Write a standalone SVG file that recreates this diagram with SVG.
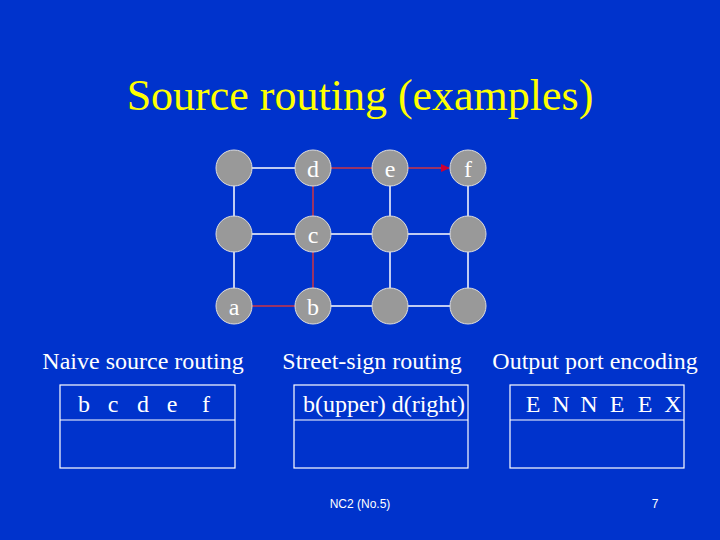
<svg xmlns="http://www.w3.org/2000/svg" width="720" height="540" viewBox="0 0 720 540">
<defs>
<marker id="ah" markerWidth="9" markerHeight="8" refX="8" refY="4" orient="auto" markerUnits="userSpaceOnUse">
<path d="M0,0 L9,4 L0,8 Z" fill="#CC0033"/>
</marker>
<style>
.node{fill:#999999;stroke:#DDDDDD;stroke-width:1}
.nl{font-family:"Liberation Serif",serif;font-size:24px;fill:#FFFFFF;text-anchor:middle}
.w{stroke:#FFFFFF;stroke-width:1.5;fill:none}
.r{stroke:#993366;stroke-width:2;fill:none}
.lab{font-family:"Liberation Serif",serif;font-size:24px;fill:#FFFFFF;text-anchor:middle}
.box{fill:none;stroke:#FFFFFF;stroke-width:1.2}
</style>
</defs>
<rect width="720" height="540" fill="#0033CC"/>
<text x="360" y="110" font-family="Liberation Serif, serif" font-size="44" fill="#FFFF00" text-anchor="middle">Source routing (examples)</text>
<g id="connectors">
<line class="w" x1="234" y1="168" x2="313" y2="168"/>
<line class="r" x1="313" y1="168" x2="390" y2="168" stroke-width="3"/>
<line class="r" x1="390" y1="168" x2="449" y2="168" stroke-width="3" marker-end="url(#ah)"/>
<line class="w" x1="234" y1="234" x2="468" y2="234"/>
<line class="r" x1="234" y1="306" x2="313" y2="306"/>
<line class="w" x1="313" y1="306" x2="468" y2="306"/>
<line class="w" x1="234" y1="168" x2="234" y2="306"/>
<line class="r" x1="313" y1="168" x2="313" y2="306"/>
<line class="w" x1="390" y1="168" x2="390" y2="306"/>
<line class="w" x1="468" y1="168" x2="468" y2="306"/>
</g>
<g id="n00"><circle class="node" cx="234" cy="168" r="18"/></g>
<g id="d"><circle class="node" cx="313" cy="168" r="18"/><text class="nl" x="313" y="177">d</text></g>
<g id="e"><circle class="node" cx="390" cy="168" r="18"/><text class="nl" x="390" y="177">e</text></g>
<g id="f"><circle class="node" cx="468" cy="168" r="18"/><text class="nl" x="468" y="177">f</text></g>
<g id="n10"><circle class="node" cx="234" cy="234" r="18"/></g>
<g id="c"><circle class="node" cx="313" cy="234" r="18"/><text class="nl" x="313" y="243">c</text></g>
<g id="n12"><circle class="node" cx="390" cy="234" r="18"/></g>
<g id="n13"><circle class="node" cx="468" cy="234" r="18"/></g>
<g id="a"><circle class="node" cx="234" cy="306" r="18"/><text class="nl" x="234" y="315">a</text></g>
<g id="b"><circle class="node" cx="313" cy="306" r="18"/><text class="nl" x="313" y="315">b</text></g>
<g id="n22"><circle class="node" cx="390" cy="306" r="18"/></g>
<g id="n23"><circle class="node" cx="468" cy="306" r="18"/></g>
<g id="naive">
<text class="lab" x="143" y="369">Naive source routing</text>
<rect class="box" x="60" y="385" width="175" height="83"/>
<line class="box" x1="60" y1="420" x2="235" y2="420"/>
<text class="lab" x="84" y="412">b</text>
<text class="lab" x="113" y="412">c</text>
<text class="lab" x="143" y="412">d</text>
<text class="lab" x="172" y="412">e</text>
<text class="lab" x="206" y="412">f</text>
</g>
<g id="street">
<text class="lab" x="372" y="369">Street-sign routing</text>
<rect class="box" x="294" y="385" width="174" height="83"/>
<line class="box" x1="294" y1="420" x2="468" y2="420"/>
<text class="lab" x="384" y="412">b(upper) d(right)</text>
</g>
<g id="output">
<text class="lab" x="595" y="369">Output port encoding</text>
<rect class="box" x="510" y="385" width="174" height="83"/>
<line class="box" x1="510" y1="420" x2="684" y2="420"/>
<text class="lab" x="533" y="412">E</text>
<text class="lab" x="561" y="412">N</text>
<text class="lab" x="589" y="412">N</text>
<text class="lab" x="617" y="412">E</text>
<text class="lab" x="645" y="412">E</text>
<text class="lab" x="673" y="412">X</text>
</g>
<text x="360" y="508" font-family="Liberation Sans, sans-serif" font-size="12" fill="#FFFFFF" text-anchor="middle">NC2 (No.5)</text>
<text x="655" y="508" font-family="Liberation Sans, sans-serif" font-size="12" fill="#FFFFFF" text-anchor="middle">7</text>
</svg>
